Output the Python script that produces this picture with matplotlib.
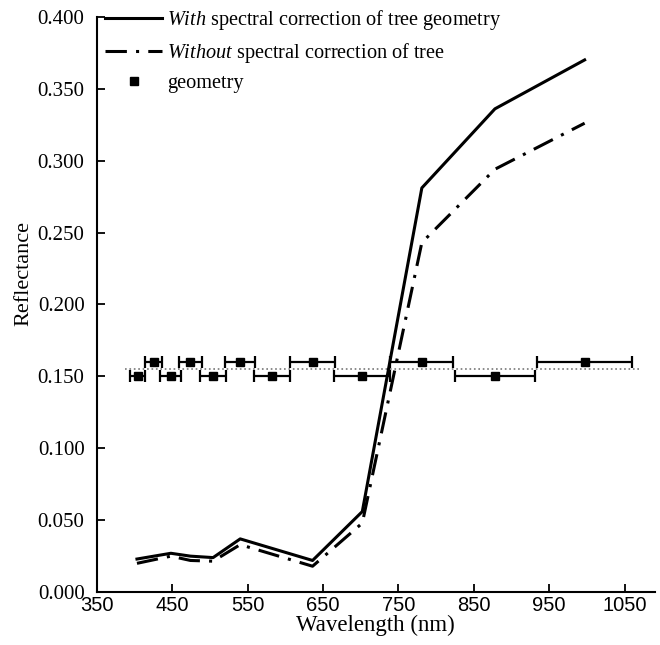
import matplotlib.pyplot as plt
from matplotlib.lines import Line2D

plt.rcParams['mathtext.fontset'] = 'custom'
plt.rcParams['mathtext.rm'] = 'Liberation Serif'
plt.rcParams['mathtext.it'] = 'Liberation Serif:italic'

# reflectance spectra
wl = [403, 448, 474, 504, 540, 636, 702, 781, 878, 997]
refl_with = [0.023, 0.027, 0.025, 0.024, 0.037, 0.022, 0.056, 0.281, 0.336, 0.370]
refl_without = [0.020, 0.025, 0.022, 0.0215, 0.033, 0.018, 0.048, 0.243, 0.294, 0.326]

# band centres and half widths, two rows
band_hi = [425, 474, 540, 636, 781, 997]
half_hi = [11, 15, 20, 30, 42, 63]
band_lo = [404, 448, 504, 582, 702, 878]
half_lo = [10, 14, 17, 24, 37, 53]
row_hi = 0.160
row_lo = 0.150
ref_y = 0.155
ref_x = [387, 1071]

fig = plt.figure(figsize=(6.6, 6.45), dpi=100)
ax = fig.add_axes([0.147, 0.082, 0.845, 0.892])

ax.hlines(ref_y, ref_x[0], ref_x[1], colors='#777777', linestyles=':', linewidth=1.2)
ax.errorbar(band_hi, [row_hi] * len(band_hi), xerr=half_hi, fmt='s', color='black',
            markersize=6, elinewidth=1.6, capsize=4, capthick=1.6)
ax.errorbar(band_lo, [row_lo] * len(band_lo), xerr=half_lo, fmt='s', color='black',
            markersize=6, elinewidth=1.6, capsize=4, capthick=1.6)

ax.plot(wl, refl_with, color='black', lw=2.2)
ax.plot(wl, refl_without, color='black', lw=2.2, dashes=(7, 3, 1, 3))

ax.set_xlim(350, 1090)
ax.set_ylim(0, 0.4)
ax.set_xticks(range(350, 1051, 100))
ax.set_yticks([i * 0.05 for i in range(9)])
ax.set_yticklabels(['%.3f' % (i * 0.05) for i in range(9)])
ax.tick_params(direction='in', length=6, width=1.3)
ax.tick_params(axis='x', labelsize=14.5, pad=3)
ax.tick_params(axis='y', labelsize=15, pad=9)
for lab in ax.get_xticklabels():
    lab.set_family('Liberation Sans')
for lab in ax.get_yticklabels():
    lab.set_family('Liberation Serif')
for s in ['top', 'right']:
    ax.spines[s].set_visible(False)
for s in ['left', 'bottom']:
    ax.spines[s].set_linewidth(1.5)

ax.set_xlabel('Wavelength (nm)', family='Liberation Serif', fontsize=16.5, labelpad=0)
ax.set_ylabel('Reflectance', family='Liberation Serif', fontsize=16)
ax.yaxis.set_label_coords(-0.115, 0.553)

handles = [Line2D([], [], color='black', lw=2.2),
           Line2D([], [], color='black', lw=2.2, dashes=(7, 3, 1, 3)),
           Line2D([], [], color='black', marker='s', markersize=6, linestyle='none')]
labels = [r'$\it{With}$ spectral correction of tree geometry',
          r'$\it{Without}$ spectral correction of tree',
          'geometry']
ax.legend(handles, labels, loc='upper left', bbox_to_anchor=(0.0, 1.03), frameon=False,
          prop={'family': 'Liberation Serif', 'size': 14.6}, handlelength=2.8,
          handletextpad=0.25, labelspacing=0.45, borderaxespad=0)

fig.savefig('out.png', dpi=100)
